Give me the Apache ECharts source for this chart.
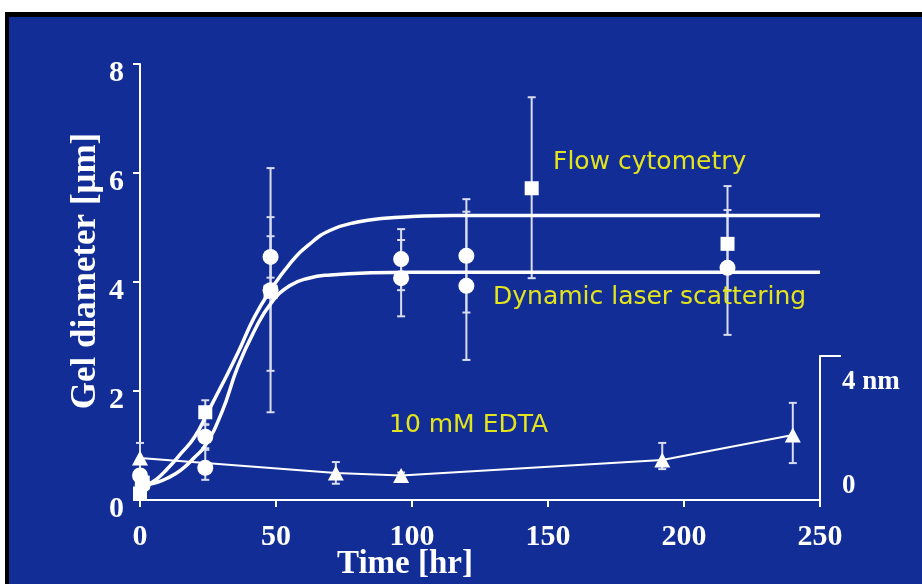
<!DOCTYPE html>
<html>
<head>
<meta charset="utf-8">
<script src="https://cdn.jsdelivr.net/npm/echarts@6/dist/echarts.min.js"></script>
<style>
  html, body { margin: 0; padding: 0; width: 922px; height: 584px; overflow: hidden; background: #ffffff; }
  #frame { position: absolute; left: 5px; top: 12px; width: 917px; height: 572px; box-sizing: border-box;
           background: #122e96; border-top: 5px solid #000; border-left: 4px solid #000; }
  #chart { position: absolute; left: 0; top: 0; width: 922px; height: 584px; }
</style>
</head>
<body>
<div id="frame"></div>
<div id="chart"></div>
<script>
// ---- Gel diameter by flow cytometry (squares), hours vs µm ----
const flowHours = [0, 1, 24, 48, 144, 216];
const flowDiam  = [0.12, 0.32, 1.61, 3.82, 5.72, 4.70];
const flowLow   = [0.05, 0.22, 1.39, 2.37, 4.07, 3.85];
const flowHigh  = [0.20, 0.42, 1.83, 5.19, 7.39, 5.76];

// ---- Gel diameter by dynamic laser scattering (circles) ----
const dlsHours = [0, 1, 24, 24, 48, 48, 96, 96, 120, 120, 216];
const dlsDiam  = [0.45, 0.28, 1.16, 0.59, 4.46, 3.85, 4.42, 4.07, 4.48, 3.93, 4.26];
const dlsLow   = [0.35, 0.20, 0.95, 0.37, 4.08, 1.61, 3.85, 3.37, 3.44, 2.57, 3.03];
const dlsHigh  = [0.55, 0.36, 1.38, 0.92, 4.84, 6.09, 4.97, 4.77, 5.52, 5.29, 5.32];

// ---- Fitted growth curves ----
const flowFitHours = [2.5, 6, 10, 15, 20, 25, 30, 36, 42, 48, 55, 62, 70, 80, 90, 100, 115, 250];
const flowFitDiam  = [0.28, 0.38, 0.57, 0.85, 1.15, 1.62, 2.1, 2.7, 3.35, 3.85, 4.33, 4.68, 4.95, 5.1, 5.17, 5.2, 5.22, 5.22];
const dlsFitHours  = [2.5, 6, 10, 15, 20, 24, 30, 36, 42, 48, 55, 62, 70, 85, 100, 250];
const dlsFitDiam   = [0.28, 0.32, 0.40, 0.55, 0.78, 1.0, 1.6, 2.45, 3.1, 3.6, 3.93, 4.07, 4.13, 4.17, 4.18, 4.18];

// ---- 10 mM EDTA control (triangles), hours vs nm ----
const edtaHours = [0, 72, 96, 192, 240];
const edtaNm    = [1.60, 1.03, 0.94, 1.53, 2.48];
const edtaLow   = [1.00, 0.62, 0.85, 1.18, 1.41];
const edtaHigh  = [2.18, 1.45, 1.05, 2.18, 3.71];

// ---- Axis scales and tick labels ----
const timeRange = [0, 250], timeStep = 50;
const diamRange = [0, 8], diamStep = 2;
const nmRange = [0, 5.5];
const nmLabelValues = [0, 4];
const nmLabelText = ['0', '4 nm'];

// ---- Annotations ----
const notes = [
  { text: 'Flow cytometry', x: 553, y: 162 },
  { text: 'Dynamic laser scattering', x: 493, y: 297 },
  { text: '10 mM EDTA', x: 389, y: 425 }
];

const white = '#ffffff';
const barColor = '#d9ddef';
const noteColor = '#e4e41c';
const serif = '"Liberation Serif", "Times New Roman", serif';

const pairs = (xs, ys) => xs.map((x, i) => [x, ys[i]]);

function errorBars(xs, lo, hi, xi, yi) {
  return {
    type: 'custom', xAxisIndex: xi, yAxisIndex: yi, z: 2, silent: true,
    data: xs.map((x, i) => [x, lo[i], hi[i]]),
    encode: { x: 0, y: [1, 2] },
    renderItem(params, api) {
      const a = api.coord([api.value(0), api.value(1)]);
      const b = api.coord([api.value(0), api.value(2)]);
      const w = 4;
      const st = { stroke: barColor, lineWidth: 2 };
      return {
        type: 'group',
        children: [
          { type: 'line', shape: { x1: a[0], y1: a[1], x2: b[0], y2: b[1] }, style: st },
          { type: 'line', shape: { x1: b[0] - w, y1: b[1], x2: b[0] + w, y2: b[1] }, style: st },
          { type: 'line', shape: { x1: a[0] - w, y1: a[1], x2: a[0] + w, y2: a[1] }, style: st }
        ]
      };
    }
  };
}

const chart = echarts.init(document.getElementById('chart'), null, { renderer: 'canvas' });

chart.setOption({
  animation: false,
  backgroundColor: 'transparent',
  grid: [
    { left: 140, right: 102, top: 64, bottom: 84, outerBoundsMode: 'none' },
    { left: 140, right: 102, top: 356, bottom: 84, outerBoundsMode: 'none' }
  ],
  xAxis: [
    {
      gridIndex: 0, type: 'value', min: timeRange[0], max: timeRange[1], interval: timeStep,
      name: 'Time [hr]', nameLocation: 'middle', nameGap: 48, nameMoveOverlap: false,
      nameTextStyle: { color: white, fontFamily: serif, fontWeight: 'bold', fontSize: 33, padding: [0, 150, 0, 0] },
      axisLine: { show: true, onZero: false, lineStyle: { color: white, width: 2 } },
      axisTick: { show: true, length: 7, lineStyle: { color: white, width: 2 } },
      axisLabel: { color: white, fontFamily: serif, fontWeight: 'bold', fontSize: 30, margin: 22 },
      splitLine: { show: false }
    },
    {
      gridIndex: 1, type: 'value', min: timeRange[0], max: timeRange[1], show: false
    }
  ],
  yAxis: [
    {
      gridIndex: 0, type: 'value', min: diamRange[0], max: diamRange[1], interval: diamStep,
      name: 'Gel diameter [\u03bcm]', nameLocation: 'middle', nameGap: 37, nameRotate: 90, nameMoveOverlap: false,
      nameTextStyle: { color: white, fontFamily: serif, fontWeight: 'bold', fontSize: 35, padding: [0, 0, 0, 22] },
      axisLine: { show: true, onZero: false, lineStyle: { color: white, width: 2 } },
      axisTick: { show: true, length: 7, lineStyle: { color: white, width: 2 } },
      axisLabel: { color: white, fontFamily: serif, fontWeight: 'bold', fontSize: 30, margin: 16,
                   verticalAlign: 'top', lineHeight: 18 },
      splitLine: { show: false }
    },
    {
      gridIndex: 1, type: 'value', position: 'right', min: nmRange[0], max: nmRange[1],
      axisLine: { show: true, onZero: false, lineStyle: { color: white, width: 2 } },
      axisTick: { show: true, customValues: [nmRange[1]], length: 21, lineStyle: { color: white, width: 2 } },
      axisLabel: {
        customValues: nmLabelValues,
        formatter: v => nmLabelText[nmLabelValues.indexOf(v)],
        color: white, fontFamily: serif, fontWeight: 'bold', fontSize: 27, margin: 22, verticalAlign: 'bottom'
      },
      splitLine: { show: false }
    }
  ],
  graphic: notes.map(n => ({
    type: 'text', left: n.x, top: n.y - 12, z: 10,
    style: { text: n.text, fill: noteColor, font: '25px "DejaVu Sans", sans-serif' }
  })),
  series: [
    errorBars(flowHours, flowLow, flowHigh, 0, 0),
    errorBars(dlsHours, dlsLow, dlsHigh, 0, 0),
    errorBars(edtaHours, edtaLow, edtaHigh, 1, 1),
    {
      type: 'line', xAxisIndex: 0, yAxisIndex: 0, z: 3, showSymbol: false, smooth: 0.5,
      data: pairs(flowFitHours, flowFitDiam), lineStyle: { color: white, width: 3.5 }
    },
    {
      type: 'line', xAxisIndex: 0, yAxisIndex: 0, z: 3, showSymbol: false, smooth: 0.5,
      data: pairs(dlsFitHours, dlsFitDiam), lineStyle: { color: white, width: 3.5 }
    },
    {
      type: 'line', xAxisIndex: 1, yAxisIndex: 1, z: 4, symbol: 'triangle', symbolSize: [16, 15], showAllSymbol: true,
      data: pairs(edtaHours, edtaNm), lineStyle: { color: white, width: 2 },
      itemStyle: { color: white, borderWidth: 0 }
    },
    {
      type: 'scatter', xAxisIndex: 0, yAxisIndex: 0, z: 5, symbol: 'rect', symbolSize: 14,
      data: pairs(flowHours, flowDiam), itemStyle: { color: white, opacity: 1 }
    },
    {
      type: 'scatter', xAxisIndex: 0, yAxisIndex: 0, z: 5, symbol: 'circle', symbolSize: 16,
      data: pairs(dlsHours, dlsDiam), itemStyle: { color: white, opacity: 1 }
    }
  ]
});
</script>
</body>
</html>
